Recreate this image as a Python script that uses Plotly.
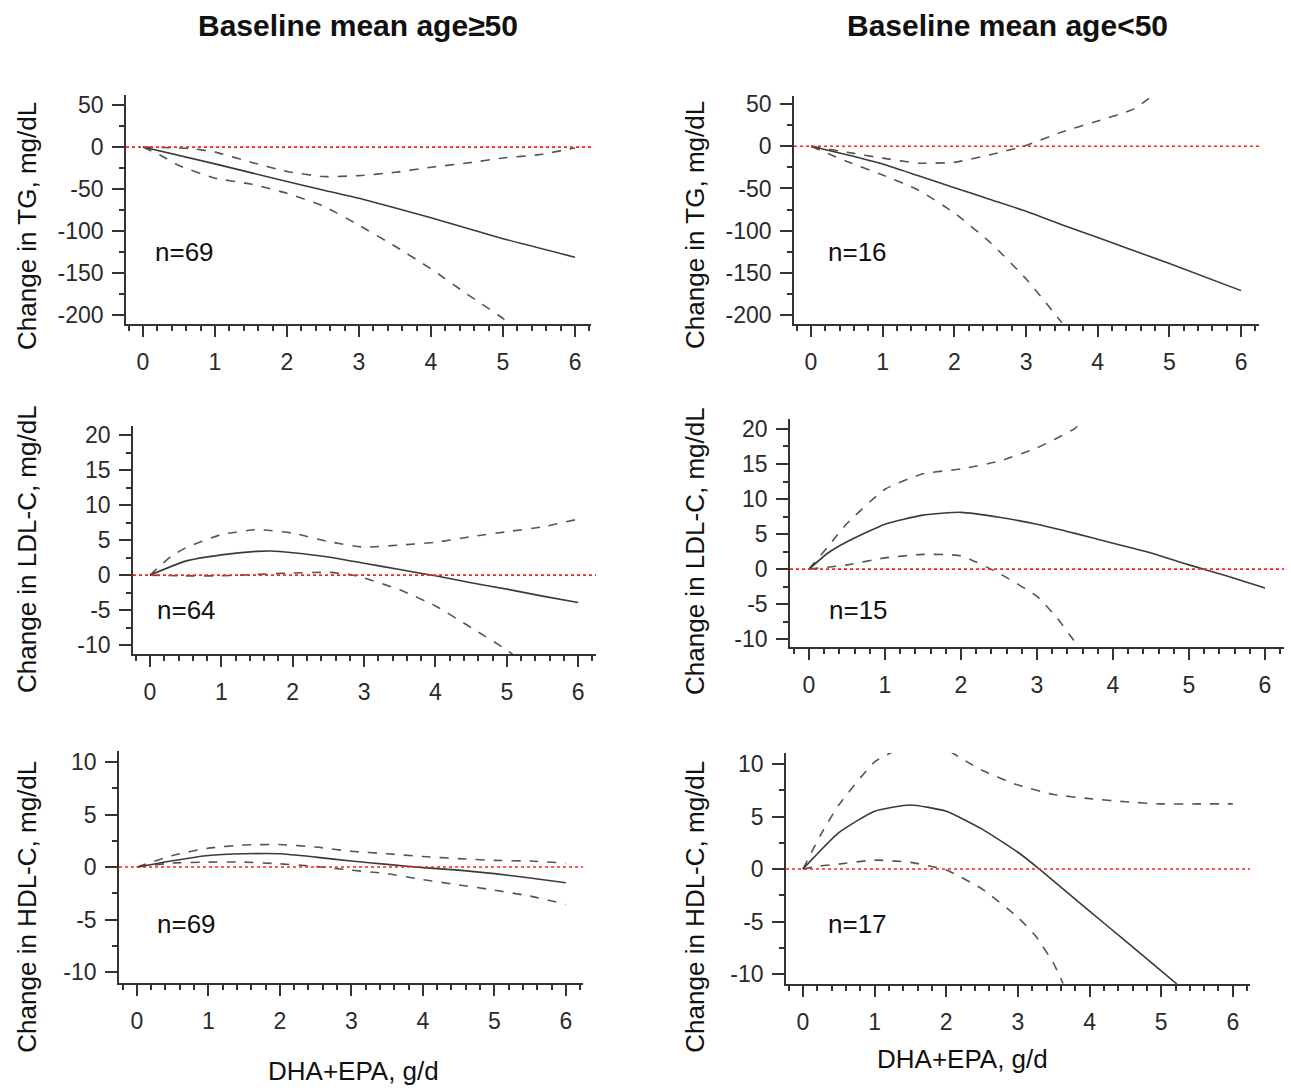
import plotly.graph_objects as go

W, H = 1291, 1090

# ---------------- data ----------------
# Panel 1: TG, baseline mean age >= 50
tg_old_fit_x = [0, 1, 2, 2.5, 3, 4, 5, 6]
tg_old_fit_y = [0, -20, -41, -51, -61, -84, -109, -131]
tg_old_up_x = [0, 0.5, 0.7, 1, 1.5, 2, 2.5, 3, 3.5, 4, 4.5, 5, 5.5, 6]
tg_old_up_y = [0, -1, -2, -6, -18, -29, -35, -34, -30, -24, -19, -13, -9, -1]
tg_old_lo_x = [0, 0.25, 0.5, 1, 1.5, 2, 2.5, 3, 3.5, 4, 4.5, 5, 5.08]
tg_old_lo_y = [0, -10, -22, -37, -44, -55, -70, -93, -118, -145, -175, -204, -211]

# Panel 2: TG, baseline mean age < 50
tg_young_fit_x = [0, 0.5, 1, 1.5, 2, 2.5, 3, 3.5, 4, 5, 6]
tg_young_fit_y = [0, -10, -21, -35, -49, -63, -77, -93, -108, -139, -171]
tg_young_up_x = [0, 0.5, 1, 1.5, 2, 2.5, 3, 3.5, 4, 4.5, 4.75]
tg_young_up_y = [0, -7, -14, -20, -19, -10, 1, 17, 30, 44, 59]
tg_young_lo_x = [0, 0.5, 1, 1.5, 2, 2.5, 3, 3.5]
tg_young_lo_y = [0, -18, -34, -52, -79, -114, -157, -209]

# Panel 3: LDL-C, age >= 50
ldl_old_fit_x = [0, 0.5, 1, 1.5, 1.7, 2, 2.5, 3, 3.5, 4, 4.5, 5, 5.5, 6]
ldl_old_fit_y = [0, 2.0, 2.9, 3.4, 3.45, 3.2, 2.6, 1.7, 0.8, -0.1, -1.1, -2.0, -3.0, -3.9]
ldl_old_up_x = [0, 0.3, 0.5, 1, 1.5, 2, 2.5, 3, 3.5, 4, 4.5, 5, 5.5, 6]
ldl_old_up_y = [0, 2.7, 3.9, 5.8, 6.5, 6.0, 4.8, 4.0, 4.3, 4.7, 5.5, 6.2, 6.9, 8.0]
ldl_old_lo_x = [0, 0.5, 1, 1.5, 2, 2.5, 2.8, 3, 3.5, 4, 4.5, 5, 5.08]
ldl_old_lo_y = [0, -0.1, -0.1, 0.1, 0.3, 0.4, 0.1, -0.4, -2.1, -4.4, -7.5, -10.7, -11.3]

# Panel 4: LDL-C, age < 50
ldl_young_fit_x = [0, 0.25, 0.5, 1, 1.5, 2, 2.5, 3, 3.5, 4, 4.5, 5, 5.5, 6]
ldl_young_fit_y = [0, 2.3, 3.9, 6.4, 7.7, 8.1, 7.4, 6.4, 5.1, 3.7, 2.3, 0.6, -1.0, -2.7]
ldl_young_up_x = [0, 0.25, 0.5, 1, 1.5, 2, 2.5, 3, 3.5, 3.6]
ldl_young_up_y = [0, 3.2, 6.5, 11.4, 13.6, 14.3, 15.4, 17.3, 20.1, 21.2]
ldl_young_lo_x = [0, 0.5, 1, 1.5, 2, 2.5, 3, 3.25, 3.5, 3.55]
ldl_young_lo_y = [0, 0.6, 1.6, 2.1, 1.9, -0.6, -3.9, -6.8, -10.4, -11.1]

# Panel 5: HDL-C, age >= 50
hdl_old_x = [0, 0.5, 1, 1.5, 2, 2.5, 3, 3.5, 4, 4.5, 5, 5.5, 6]
hdl_old_fit_y = [0, 0.6, 1.1, 1.26, 1.26, 0.94, 0.57, 0.25, -0.06, -0.3, -0.63, -1.04, -1.5]
hdl_old_up_y = [0, 1.1, 1.8, 2.1, 2.14, 1.9, 1.5, 1.26, 1.0, 0.8, 0.63, 0.57, 0.38]
hdl_old_lo_y = [0, 0.38, 0.47, 0.47, 0.3, 0.06, -0.3, -0.63, -1.2, -1.7, -2.2, -2.77, -3.55]

# Panel 6: HDL-C, age < 50
hdl_young_fit_x = [0, 0.5, 1, 1.5, 2, 2.5, 3, 3.3, 3.5, 4, 4.5, 5, 5.22]
hdl_young_fit_y = [0, 3.46, 5.5, 6.1, 5.5, 3.8, 1.6, 0, -1.15, -4.0, -6.85, -9.7, -10.95]
hdl_young_up_x = [0, 0.25, 0.5, 1, 1.3, None, 2.05, 2.5, 3, 3.5, 4, 4.5, 5, 5.5, 6]
hdl_young_up_y = [0, 3.3, 6.1, 10.2, 11.3, None, 11.2, 9.4, 8.0, 7.1, 6.7, 6.4, 6.2, 6.2, 6.2]
hdl_young_lo_x = [0, 0.25, 0.5, 1, 1.5, 2, 2.5, 3, 3.25, 3.5, 3.63]
hdl_young_lo_y = [0, 0.3, 0.47, 0.85, 0.63, -0.1, -1.9, -4.6, -6.4, -9.0, -10.9]

# tick values / labels
dose_ticks = [0, 1, 2, 3, 4, 5, 6]
tg_ticks = [50, 0, -50, -100, -150, -200]
ldl_ticks = [20, 15, 10, 5, 0, -5, -10]
hdl_ticks = [10, 5, 0, -5, -10]

col_titles = ["Baseline mean age\u226550", "Baseline mean age<50"]
y_titles = ["Change in TG, mg/dL", "Change in TG, mg/dL",
            "Change in LDL-C, mg/dL", "Change in LDL-C, mg/dL",
            "Change in HDL-C, mg/dL", "Change in HDL-C, mg/dL"]
n_labels = ["n=69", "n=16", "n=64", "n=15", "n=69", "n=17"]
x_title = "DHA+EPA, g/d"

panels = [
    (tg_old_fit_x, tg_old_fit_y, tg_old_up_x, tg_old_up_y, tg_old_lo_x, tg_old_lo_y, tg_ticks),
    (tg_young_fit_x, tg_young_fit_y, tg_young_up_x, tg_young_up_y, tg_young_lo_x, tg_young_lo_y, tg_ticks),
    (ldl_old_fit_x, ldl_old_fit_y, ldl_old_up_x, ldl_old_up_y, ldl_old_lo_x, ldl_old_lo_y, ldl_ticks),
    (ldl_young_fit_x, ldl_young_fit_y, ldl_young_up_x, ldl_young_up_y, ldl_young_lo_x, ldl_young_lo_y, ldl_ticks),
    (hdl_old_x, hdl_old_fit_y, hdl_old_x, hdl_old_up_y, hdl_old_x, hdl_old_lo_y, hdl_ticks),
    (hdl_young_fit_x, hdl_young_fit_y, hdl_young_up_x, hdl_young_up_y, hdl_young_lo_x, hdl_young_lo_y, hdl_ticks),
]

# ---------------- layout (pixel geometry) ----------------
# (x0px, x1px, y_top_px, y_bottom_px, xrange, yrange, yminor)
geom = [
    (126, 591, 91, 322, [-0.236, 6.222], [-210.6, 61.8], 25),
    (794, 1259, 92, 322, [-0.237, 6.25], [-210.6, 59.4], 25),
    (133, 596, 425, 655, [-0.238, 6.25], [-11.27, 21.3], 2.5),
    (790, 1284, 418, 648, [-0.25, 6.25], [-11.13, 21.4], 2.5),
    (119, 583, 753, 987, [-0.25, 6.24], [-11.04, 11.04], 2.5),
    (786, 1250, 755, 988, [-0.237, 6.24], [-10.94, 11.04], 2.5),
]

FONT = "Liberation Sans, Arial, sans-serif"
AXC = "#333333"
fig = go.Figure()

for i, (p, g) in enumerate(zip(panels, geom)):
    fx, fy, ux, uy, lx, ly, yt_vals = p
    k = "" if i == 0 else str(i + 1)
    xa, ya = "x" + k, "y" + k
    for xs, ys, dash, col in [(ux, uy, "dash", "#555555"), (lx, ly, "dash", "#555555"),
                              (fx, fy, "solid", "#3a3a3a")]:
        fig.add_trace(go.Scatter(x=xs, y=ys, mode="lines", xaxis=xa, yaxis=ya,
                                 line=dict(color=col, width=1.6, dash=dash, shape="spline", smoothing=0.5),
                                 connectgaps=False, showlegend=False, hoverinfo="skip"))
    x0, x1, yt, yb, xr, yr, ymn = g
    common = dict(showline=True, linecolor=AXC, linewidth=1.6, ticks="outside", tickcolor=AXC,
                  tickwidth=1.5, showgrid=False, zeroline=False,
                  tickfont=dict(family=FONT, size=23, color="#2a2a2a"))
    fig.layout["xaxis" + k] = dict(domain=[x0 / W, x1 / W], range=xr, anchor=ya,
                                   tickmode="array", tickvals=dose_ticks,
                                   ticktext=[str(v) for v in dose_ticks], ticklen=11,
                                   ticklabelstandoff=6,
                                   minor=dict(tickmode="linear", dtick=0.2, tick0=0, ticklen=5, tickwidth=1.5,
                                              tickcolor=AXC, ticks="outside", showgrid=False),
                                   **common)
    fig.layout["yaxis" + k] = dict(domain=[1 - yb / H, 1 - yt / H], range=yr, anchor=xa,
                                   tickmode="array", tickvals=yt_vals,
                                   ticktext=[str(v) for v in yt_vals], ticklen=12,
                                   ticklabelstandoff=4,
                                   minor=dict(tickmode="linear", dtick=ymn, tick0=0, ticklen=5, tickwidth=1.5,
                                              tickcolor=AXC, ticks="outside", showgrid=False),
                                   **common)
    # red dotted zero line
    fig.add_shape(type="line", xref=xa + " domain", yref=ya, x0=0, x1=1, y0=0, y1=0,
                  line=dict(color="#ff2020", width=1.6, dash="dot"))

ann = []
# column titles
for txt, cx in zip(col_titles, [358, 1007]):
    ann.append(dict(text="<b>" + txt + "</b>", x=cx / W, y=1 - 21 / H, xref="paper", yref="paper",
                    showarrow=False, xanchor="center", yanchor="middle",
                    font=dict(family=FONT, size=30, color="#111111")))
# y titles
ytitle_pos = [(27, 223), (695, 222), (27, 549), (695, 551), (27, 910), (695, 910)]
for txt, (cx, cy) in zip(y_titles, ytitle_pos):
    ann.append(dict(text=txt, x=cx / W, y=1 - cy / H, xref="paper", yref="paper", textangle=-90,
                    showarrow=False, xanchor="center", yanchor="middle",
                    font=dict(family=FONT, size=26, color="#111111")))
# x titles
for cx, cy in [(353, 1076), (962, 1064)]:
    ann.append(dict(text=x_title, x=cx / W, y=1 - cy / H, xref="paper", yref="paper",
                    showarrow=False, xanchor="center", yanchor="middle",
                    font=dict(family=FONT, size=26, color="#111111")))
# n labels
n_pos = [(153, 249), (826, 249), (155, 611), (827, 611), (155, 928), (826, 928)]
for txt, (lx, cy) in zip(n_labels, n_pos):
    ann.append(dict(text=txt, x=lx / W, y=1 - cy / H, xref="paper", yref="paper",
                    showarrow=False, xanchor="left", yanchor="middle",
                    font=dict(family=FONT, size=26, color="#111111")))

fig.update_layout(width=W, height=H, margin=dict(l=0, r=0, t=0, b=0),
                  paper_bgcolor="white", plot_bgcolor="white", annotations=ann,
                  showlegend=False)

fig.write_html("out.html")
